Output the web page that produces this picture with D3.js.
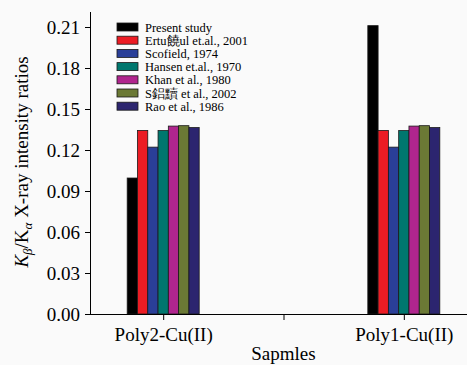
<!DOCTYPE html>
<html>
<head>
<meta charset="utf-8">
<script src="https://cdn.jsdelivr.net/npm/d3@7"></script>
<style>
body { margin: 0; background: #fafafa; }
svg { display: block; font-family: "Liberation Serif", "Times New Roman", serif; }
</style>
</head>
<body>
<svg id="chart" width="467" height="365"></svg>
<script>
// samples (x positions 1 and 3, the middle tick stays empty)
var samples = ["Poly2-Cu(II)", "Poly1-Cu(II)"];
var samplePos = [1, 3];
var series = ["Present study", "Ertu饒ul et.al., 2001", "Scofield, 1974", "Hansen et.al., 1970",
              "Khan et al., 1980", "S鋁黷 et al., 2002", "Rao et al., 1986"];
var colors = ["#000000", "#ec1c24", "#2a3f98", "#00776e", "#b0258e", "#6b7935", "#2c256f"];
// values per series: [Poly2, Poly1]
var present  = [0.0995, 0.2110];
var ertugrul = [0.1343, 0.1343];
var scofield = [0.1221, 0.1221];
var hansen   = [0.1342, 0.1342];
var khan     = [0.1375, 0.1375];
var sogut    = [0.1378, 0.1378];
var rao      = [0.1364, 0.1364];
var values = [present, ertugrul, scofield, hansen, khan, sogut, rao];
var yTicks = [0, 0.03, 0.06, 0.09, 0.12, 0.15, 0.18, 0.21];

var svg = d3.select("#chart");

var x = d3.scaleLinear().domain([0.4, 3.6]).range([91, 476]);
var y = d3.scaleLinear().domain([0, 0.21]).range([314, 27]);
var groupW = 72;
var inner = d3.scaleBand().domain(d3.range(series.length)).range([-groupW / 2, groupW / 2]);

// bars
series.forEach(function(s, i){
  svg.append("g").selectAll("rect")
    .data(values[i])
    .enter().append("rect")
    .attr("x", function(d, j){ return x(samplePos[j]) + inner(i); })
    .attr("y", function(d){ return y(d); })
    .attr("width", inner.bandwidth())
    .attr("height", function(d){ return y(0) - y(d); })
    .attr("fill", colors[i])
    .attr("stroke", "#1a1a1a")
    .attr("stroke-width", 0.8);
});

// y axis
var yAxis = svg.append("g")
  .attr("transform", "translate(91,0)")
  .call(d3.axisLeft(y).tickValues(yTicks).tickFormat(d3.format(".2f")).tickSize(6).tickPadding(5));
yAxis.select(".domain").attr("d", "M-0.5,12V314.5");
yAxis.selectAll("text").attr("font-size", "19px").attr("font-family", "Liberation Serif").attr("fill", "#000");

// x axis
var xAxis = svg.append("g")
  .attr("transform", "translate(0,314)")
  .call(d3.axisBottom(x).tickValues([1, 2, 3])
    .tickFormat(function(d){ var k = samplePos.indexOf(d); return k < 0 ? "" : samples[k]; })
    .tickSize(6).tickPadding(8));
xAxis.select(".domain").attr("d", "M91,0.5H476");
xAxis.selectAll("text").attr("font-size", "19px").attr("font-family", "Liberation Serif").attr("fill", "#000");

// x title
svg.append("text")
  .attr("x", x(2)).attr("y", 360)
  .attr("text-anchor", "middle")
  .attr("font-size", "19px")
  .text("Sapmles");

// y title
var yt = svg.append("text")
  .attr("transform", "translate(28,162) rotate(-90)")
  .attr("text-anchor", "middle")
  .attr("font-size", "19px");
yt.append("tspan").attr("font-style", "italic").text("K");
yt.append("tspan").attr("font-style", "italic").attr("font-size", "13px").attr("dy", 4).text("β");
yt.append("tspan").attr("dy", -4).text("/K");
yt.append("tspan").attr("font-style", "italic").attr("font-size", "13px").attr("dy", 4).text("α");
yt.append("tspan").attr("dy", -4).text(" X-ray intensity ratios");

// legend
var legend = svg.append("g").attr("transform", "translate(117,23)");
var row = legend.selectAll("g").data(series).enter().append("g")
  .attr("transform", function(d, i){ return "translate(0," + (i * 13.2) + ")"; });
row.append("rect")
  .attr("width", 21).attr("height", 8)
  .attr("fill", function(d, i){ return colors[i]; })
  .attr("stroke", "#1a1a1a").attr("stroke-width", 0.8);
row.append("text")
  .attr("x", 28).attr("y", 8.5)
  .attr("font-size", "12.5px")
  .text(function(d){ return d; });
</script>
</body>
</html>
